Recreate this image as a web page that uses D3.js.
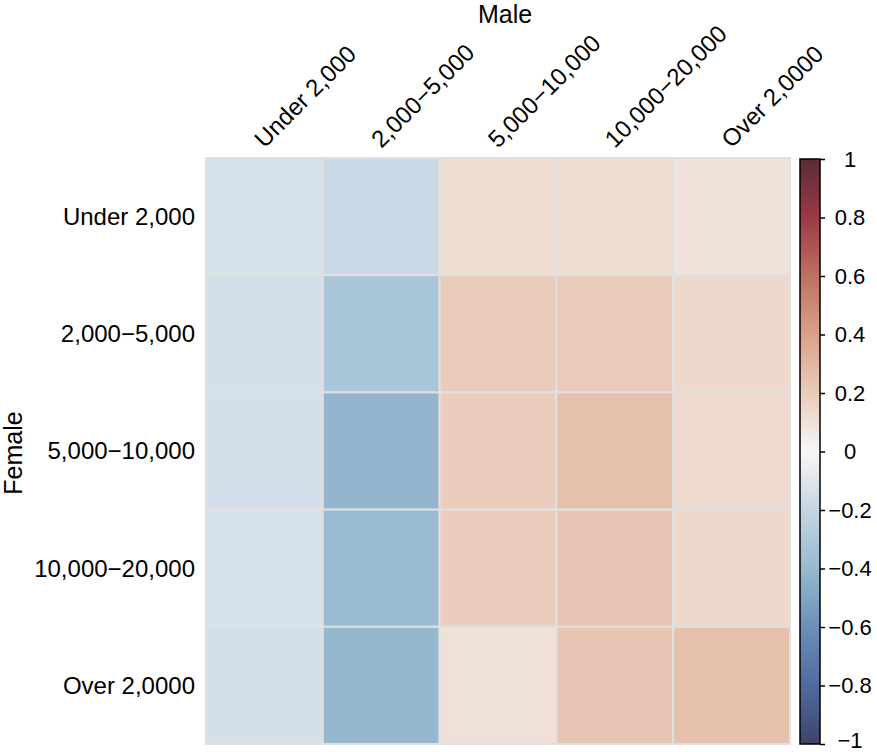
<!DOCTYPE html>
<html>
<head>
<meta charset="utf-8">
<script src="https://cdn.jsdelivr.net/npm/d3@7"></script>
<style>
  body { margin: 0; background: #fff; }
  text { font-family: "Liberation Sans", Arial, sans-serif; fill: #000; }
</style>
</head>
<body>
<svg id="chart" width="877" height="752"></svg>
<script>
// categories
const maleBins = ['Under 2,000', '2,000\u22125,000', '5,000\u221210,000', '10,000\u221220,000', 'Over 2,0000'];
const femaleBins = ['Under 2,000', '2,000\u22125,000', '5,000\u221210,000', '10,000\u221220,000', 'Over 2,0000'];

// correlation values, one row per female bin (columns = male bins)
const rowUnder2000 = [-0.13, -0.18, 0.12, 0.12, 0.09];
const row2000to5000 = [-0.14, -0.32, 0.20, 0.20, 0.14];
const row5000to10000 = [-0.14, -0.42, 0.19, 0.25, 0.13];
const row10000to20000 = [-0.13, -0.39, 0.19, 0.23, 0.14];
const rowOver20000 = [-0.14, -0.41, 0.10, 0.23, 0.25];

const colorTicks = [1, 0.8, 0.6, 0.4, 0.2, 0, -0.2, -0.4, -0.6, -0.8, -1];

// diverging colour map
const cmapStops = [-1, -0.8, -0.6, -0.4, -0.2, 0, 0.2, 0.4, 0.6, 0.8, 1];
const cmapColors = ['#3e4468', '#4f6aa0', '#6b8fb8', '#97bad0', '#c4d6e3', '#f7f7f7',
                    '#e9cbb9', '#d9a288', '#c07060', '#9a3a46', '#5c2b35'];

const rows = [rowUnder2000, row2000to5000, row5000to10000, row10000to20000, rowOver20000];
const cells = [];
rows.forEach((r, i) => r.forEach((v, j) => {
    cells.push({ female: femaleBins[i], male: maleBins[j], value: v });
}));

const svg = d3.select('#chart');
const plotLeft = 206, plotRight = 790, plotTop = 158, plotBottom = 744;

const x = d3.scaleBand().domain(maleBins).range([plotLeft, plotRight]);
const y = d3.scaleBand().domain(femaleBins).range([plotTop, plotBottom]);
const color = d3.scaleLinear().domain(cmapStops).range(cmapColors).interpolate(d3.interpolateRgb);

// cells
svg.append('g')
    .selectAll('rect')
    .data(cells)
    .join('rect')
    .attr('x', d => x(d.male))
    .attr('y', d => y(d.female))
    .attr('width', x.bandwidth())
    .attr('height', y.bandwidth())
    .attr('fill', d => color(d.value))
    .attr('stroke', '#e0e0e0')
    .attr('stroke-width', 2);

// row labels
svg.append('g')
    .selectAll('text')
    .data(femaleBins)
    .join('text')
    .attr('x', 195)
    .attr('y', d => y(d) + y.bandwidth() / 2)
    .attr('dy', '0.35em')
    .attr('text-anchor', 'end')
    .attr('font-size', 24)
    .text(d => d);

// column labels, rotated
svg.append('g')
    .selectAll('text')
    .data(maleBins)
    .join('text')
    .attr('transform', d => `translate(${x(d) + x.bandwidth() / 2},149) rotate(-45)`)
    .attr('text-anchor', 'start')
    .attr('font-size', 24)
    .text(d => d);

// axis titles
svg.append('text')
    .attr('x', 505).attr('y', 23)
    .attr('text-anchor', 'middle')
    .attr('font-size', 25)
    .text('Male');

svg.append('text')
    .attr('transform', 'translate(22,453) rotate(-90)')
    .attr('text-anchor', 'middle')
    .attr('font-size', 25)
    .text('Female');

// colour bar
const cbX = 800, cbW = 20;
const cbScale = d3.scaleLinear().domain([-1, 1]).range([744, 159]);

const defs = svg.append('defs');
const grad = defs.append('linearGradient')
    .attr('id', 'cbar')
    .attr('x1', 0).attr('y1', 1).attr('x2', 0).attr('y2', 0);
grad.selectAll('stop')
    .data(d3.range(0, 1.0001, 0.02))
    .join('stop')
    .attr('offset', d => d)
    .attr('stop-color', d => color(d * 2 - 1));

svg.append('rect')
    .attr('x', cbX).attr('y', cbScale(1))
    .attr('width', cbW).attr('height', cbScale(-1) - cbScale(1))
    .attr('fill', 'url(#cbar)')
    .attr('stroke', '#000')
    .attr('stroke-width', 1.5);

const cbAxis = d3.axisRight(cbScale)
    .tickValues(colorTicks)
    .tickSize(5)
    .tickPadding(0)
    .tickFormat(d => d3.format('')(d).replace('-', '\u2212'));

const cbG = svg.append('g')
    .attr('transform', `translate(${cbX + cbW},0)`)
    .call(cbAxis);
cbG.select('.domain').remove();
cbG.selectAll('.tick line').attr('stroke', '#000').attr('stroke-width', 1.5);
cbG.selectAll('.tick text')
    .attr('x', 30)
    .attr('dy', d => d === -1 ? '0.15em' : '0.32em')
    .attr('text-anchor', 'middle')
    .attr('font-size', 22)
    .attr('font-family', '"Liberation Sans", Arial, sans-serif')
    .attr('fill', '#000');
</script>
</body>
</html>
